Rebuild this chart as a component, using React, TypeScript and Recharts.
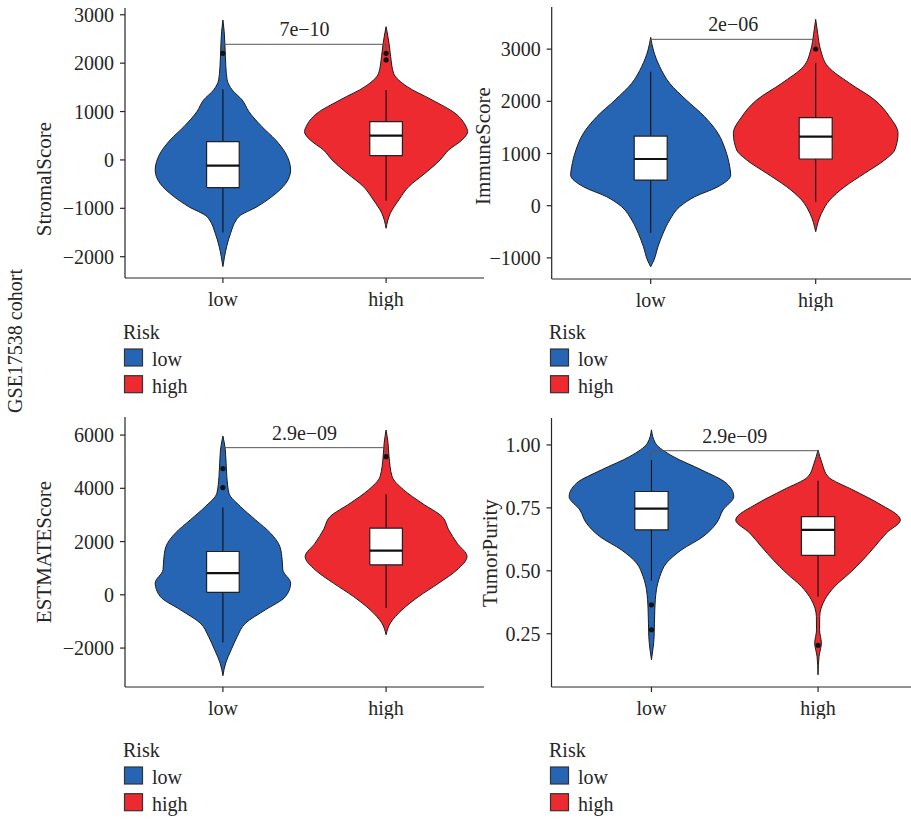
import { Area, ComposedChart, Line, ReferenceLine, Scatter, XAxis, YAxis } from 'recharts'

const CATEGORIES = ['low', 'high']
const RISK_COLORS = ['#2565b4', '#ec2a2f']
const INK = '#262626'
const FONT = '"Liberation Serif", "Times New Roman", serif'

// violin outlines: [score, half width in category units], top to bottom
const stromalLowViolin = [
  [2892, 0], [2650, 0.008], [2410, 0.012], [1928, 0.018], [1653, 0.026], [1446, 0.057],
  [1240, 0.118], [1000, 0.159], [688, 0.239], [413, 0.323], [140, 0.384], [-207, 0.415],
  [-482, 0.386], [-758, 0.3], [-965, 0.21], [-1170, 0.098], [-1240, 0.082], [-1515, 0.047],
  [-1790, 0.023], [-2000, 0.01], [-2204, 0],
]
const stromalHighViolin = [
  [2754, 0], [2410, 0.018], [2134, 0.028], [1790, 0.046], [1515, 0.129], [1240, 0.282],
  [964, 0.423], [688, 0.49], [585, 0.5], [413, 0.465], [207, 0.384], [0, 0.331],
  [-275, 0.239], [-551, 0.139], [-826, 0.078], [-1102, 0.026], [-1412, 0],
]
const immuneLowViolin = [
  [3227, 0], [2983, 0.016], [2663, 0.055], [2345, 0.115], [2025, 0.216], [1705, 0.327],
  [1387, 0.408], [1067, 0.453], [747, 0.479], [588, 0.485], [364, 0.408], [172, 0.267],
  [-19, 0.176], [-274, 0.115], [-529, 0.075], [-786, 0.044], [-1040, 0.02], [-1169, 0],
]
const immuneHighViolin = [
  [3571, 0], [3303, 0.012], [2983, 0.03], [2663, 0.075], [2345, 0.206], [2025, 0.358],
  [1705, 0.448], [1387, 0.499], [1067, 0.479], [876, 0.418], [621, 0.297], [364, 0.176],
  [109, 0.085], [-146, 0.035], [-498, 0],
]
const estimateLowViolin = [
  [5966, 0], [5441, 0.015], [4439, 0.024], [3815, 0.037], [3313, 0.108], [2814, 0.2],
  [2315, 0.292], [1812, 0.349], [1313, 0.363], [938, 0.367], [439, 0.415], [-64, 0.384],
  [-563, 0.261], [-1062, 0.139], [-1565, 0.088], [-2064, 0.051], [-2563, 0.017], [-3039, 0],
]
const estimateHighViolin = [
  [6191, 0], [5691, 0.012], [5190, 0.018], [4439, 0.037], [3940, 0.108], [3440, 0.22],
  [2938, 0.343], [2439, 0.384], [1940, 0.435], [1437, 0.496], [938, 0.435], [439, 0.323],
  [-64, 0.2], [-563, 0.098], [-1062, 0.026], [-1501, 0],
]
const purityLowViolin = [
  [1.06, 0], [1.007, 0.024], [0.954, 0.13], [0.901, 0.3], [0.848, 0.45], [0.795, 0.494],
  [0.742, 0.43], [0.689, 0.39], [0.636, 0.31], [0.583, 0.18], [0.531, 0.09], [0.477, 0.05],
  [0.425, 0.03], [0.345, 0.02], [0.239, 0.016], [0.147, 0],
]
const purityHighViolin = [
  [0.98, 0], [0.927, 0.024], [0.874, 0.06], [0.821, 0.21], [0.769, 0.36], [0.702, 0.494],
  [0.65, 0.41], [0.596, 0.34], [0.544, 0.27], [0.491, 0.19], [0.438, 0.1], [0.385, 0.04],
  [0.319, 0.01], [0.266, 0.009], [0.213, 0.02], [0.16, 0.006], [0.087, 0],
]

// box stats: lower whisker, Q1, median, Q3, upper whisker
const stromalLowBox = [-1501, -572, -117, 378, 1460]
const stromalHighBox = [-841, 89, 502, 791, 1446]
const immuneLowBox = [-517, 492, 895, 1335, 2567]
const immuneHighBox = [77, 895, 1322, 1686, 2740]
const estimateLowBox = [-1789, 88, 813, 1626, 3276]
const estimateHighBox = [-499, 1126, 1663, 2502, 3778]
const purityLowBox = [0.462, 0.663, 0.747, 0.815, 0.94]
const purityHighBox = [0.398, 0.561, 0.663, 0.715, 0.858]

const stromalLowOutliers = [2204]
const stromalHighOutliers = [2204, 2066]
const immuneLowOutliers: number[] = []
const immuneHighOutliers = [3002]
const estimateLowOutliers = [4740, 4027]
const estimateHighOutliers = [5190]
const purityLowOutliers = [0.365, 0.266]
const purityHighOutliers = [0.204]

const stromalTicks = [-2000, -1000, 0, 1000, 2000, 3000]
const immuneTicks = [-1000, 0, 1000, 2000, 3000]
const estimateTicks = [-2000, 0, 2000, 4000, 6000]
const purityTicks = [0.25, 0.5, 0.75, 1.0]

const pValues = ['7e\u221210', '2e\u221206', '2.9e\u221209', '2.9e\u221209']
const bracketLevels = [2390, 3188, 5527, 0.977]

type Group = { violin: number[][]; box: number[]; outliers: number[] }
type PanelDef = {
  left: number
  top: number
  plot: [number, number, number, number]
  domain: [number, number]
  ticks: number[]
  format: (v: number) => string
  groups: Group[]
  pValue: string
  bracketAt: number
}

const signed = (v: number) => String(v).replace('-', '\u2212')

const panels: PanelDef[] = [
  {
    left: 0, top: 0, plot: [125, 484, 8, 278], domain: [-2440, 3140], ticks: stromalTicks, format: signed,
    groups: [
      { violin: stromalLowViolin, box: stromalLowBox, outliers: stromalLowOutliers },
      { violin: stromalHighViolin, box: stromalHighBox, outliers: stromalHighOutliers },
    ],
    pValue: pValues[0], bracketAt: bracketLevels[0],
  },
  {
    left: 460, top: 0, plot: [551.7, 914.7, 7, 279], domain: [-1404, 3807], ticks: immuneTicks, format: signed,
    groups: [
      { violin: immuneLowViolin, box: immuneLowBox, outliers: immuneLowOutliers },
      { violin: immuneHighViolin, box: immuneHighBox, outliers: immuneHighOutliers },
    ],
    pValue: pValues[1], bracketAt: bracketLevels[1],
  },
  {
    left: 0, top: 410, plot: [125, 484, 417, 687], domain: [-3463, 6679], ticks: estimateTicks, format: signed,
    groups: [
      { violin: estimateLowViolin, box: estimateLowBox, outliers: estimateLowOutliers },
      { violin: estimateHighViolin, box: estimateHighBox, outliers: estimateHighOutliers },
    ],
    pValue: pValues[2], bracketAt: bracketLevels[2],
  },
  {
    left: 460, top: 410, plot: [551.5, 918, 418, 687], domain: [0.0385, 1.107], ticks: purityTicks,
    format: (v: number) => v.toFixed(2),
    groups: [
      { violin: purityLowViolin, box: purityLowBox, outliers: purityLowOutliers },
      { violin: purityHighViolin, box: purityHighBox, outliers: purityHighOutliers },
    ],
    pValue: pValues[3], bracketAt: bracketLevels[3],
  },
]

const BOX_HALF = 0.1
const Y_AXIS_W = 70

function Dot(props: any) {
  const { cx, cy } = props
  if (cx == null || cy == null) return null
  return <circle cx={cx} cy={cy} r={2.6} fill="#111" />
}

function Panel({ def }: { def: PanelDef }) {
  const [x0, x1, y0, y1] = def.plot
  const width = x1 + 4 - def.left
  const height = y1 + 32 - def.top
  const margin = { left: x0 - def.left - Y_AXIS_W, right: 4, top: y0 - def.top, bottom: 2 }
  const tip = (def.domain[1] - def.domain[0]) * 0.03

  const series = def.groups.flatMap((g, i) => {
    const pos = i + 1
    const [wLo, q1, med, q3, wHi] = g.box
    const lo = pos - BOX_HALF
    const hi = pos + BOX_HALF
    return [
      <Area
        key={`violin-${i}`}
        data={g.violin.map(([y, hw]) => ({ y, span: [pos - hw, pos + hw] }))}
        dataKey="span"
        type="monotone"
        fill={RISK_COLORS[i]}
        fillOpacity={1}
        stroke="#1c1c1c"
        strokeWidth={1}
        dot={false}
        activeDot={false}
        isAnimationActive={false}
      />,
      <Line
        key={`whisker-up-${i}`}
        data={[{ y: wHi, v: pos }, { y: q3, v: pos }]}
        dataKey="v"
        stroke="#111"
        strokeWidth={1.1}
        dot={false}
        activeDot={false}
        isAnimationActive={false}
      />,
      <Line
        key={`whisker-down-${i}`}
        data={[{ y: q1, v: pos }, { y: wLo, v: pos }]}
        dataKey="v"
        stroke="#111"
        strokeWidth={1.1}
        dot={false}
        activeDot={false}
        isAnimationActive={false}
      />,
      <Area
        key={`box-${i}`}
        data={[{ y: q3, span: [lo, hi] }, { y: q1, span: [lo, hi] }]}
        dataKey="span"
        type="linear"
        fill="#ffffff"
        fillOpacity={1}
        stroke="none"
        dot={false}
        activeDot={false}
        isAnimationActive={false}
      />,
      <Line
        key={`box-edge-${i}`}
        data={[
          { y: q1, v: lo }, { y: q1, v: hi }, { y: q3, v: hi }, { y: q3, v: lo }, { y: q1, v: lo },
        ]}
        dataKey="v"
        stroke="#222"
        strokeWidth={1.2}
        dot={false}
        activeDot={false}
        isAnimationActive={false}
      />,
      <Line
        key={`median-${i}`}
        data={[{ y: med, v: lo }, { y: med, v: hi }]}
        dataKey="v"
        stroke="#111"
        strokeWidth={2.2}
        dot={false}
        activeDot={false}
        isAnimationActive={false}
      />,
      <Scatter
        key={`out-${i}`}
        data={g.outliers.map((y) => ({ x: pos, y }))}
        shape={<Dot />}
        isAnimationActive={false}
      />,
    ]
  })

  return (
    <div style={{ position: 'absolute', left: def.left, top: def.top }}>
      <ComposedChart
        layout="vertical"
        width={width}
        height={height}
        margin={margin}
        style={{ fontFamily: FONT }}
      >
        <XAxis
          type="number"
          dataKey="x"
          domain={[0.4, 2.6]}
          ticks={[1, 2]}
          allowDataOverflow
          tickFormatter={(v: number) => CATEGORIES[v - 1]}
          stroke={INK}
          strokeWidth={1.2}
          tick={{ fill: INK, fontSize: 20 }}
          tickSize={5}
          tickMargin={9}
          height={30}
        />
        <YAxis
          type="number"
          dataKey="y"
          reversed
          domain={def.domain}
          ticks={def.ticks}
          allowDataOverflow
          tickFormatter={def.format}
          stroke={INK}
          strokeWidth={1.2}
          tick={{ fill: INK, fontSize: 20 }}
          tickSize={5}
          tickMargin={6}
          width={Y_AXIS_W}
        />
        {series}
        <Line
          data={[
            { y: def.bracketAt - tip, v: 1 },
            { y: def.bracketAt, v: 1 },
            { y: def.bracketAt, v: 2 },
            { y: def.bracketAt - tip, v: 2 },
          ]}
          dataKey="v"
          stroke="#555"
          strokeWidth={1}
          dot={false}
          activeDot={false}
          isAnimationActive={false}
        />
        <ReferenceLine
          segment={[{ x: 1, y: def.bracketAt }, { x: 2, y: def.bracketAt }]}
          stroke="none"
          label={{ value: def.pValue, position: 'top', fill: INK, fontSize: 20, offset: 8 }}
        />
      </ComposedChart>
    </div>
  )
}

const axisTitles = [
  { text: 'StromalScore', x: 44, y: 179 },
  { text: 'ImmuneScore', x: 483, y: 146 },
  { text: 'ESTMATEScore', x: 44, y: 552 },
  { text: 'TumorPurity', x: 490, y: 553 },
]

const legendSpots = [
  { x: 123, y: 339 },
  { x: 549, y: 339 },
  { x: 123, y: 757 },
  { x: 549, y: 757 },
]

function RiskLegend({ x, y }: { x: number; y: number }) {
  return (
    <g>
      <text x={x} y={y} fontSize={20} fill={INK}>Risk</text>
      {CATEGORIES.map((c, i) => (
        <g key={c}>
          <rect
            x={x + 1.5}
            y={y + 10 + i * 26.7}
            width={18}
            height={17}
            fill={RISK_COLORS[i]}
            stroke="#333"
            strokeWidth={1.2}
          />
          <text x={x + 29} y={y + 27 + i * 26.7} fontSize={20} fill={INK}>{c}</text>
        </g>
      ))}
    </g>
  )
}

export default function App() {
  return (
    <div
      style={{
        position: 'absolute',
        left: 0,
        top: 0,
        width: 911,
        height: 820,
        overflow: 'hidden',
        background: '#fff',
        fontFamily: FONT,
      }}
    >
      {panels.map((p, i) => (
        <Panel key={i} def={p} />
      ))}
      <svg
        width={911}
        height={820}
        style={{ position: 'absolute', left: 0, top: 0, pointerEvents: 'none', fontFamily: FONT }}
      >
        <text
          x={15}
          y={341}
          dy="0.35em"
          fontSize={20}
          fill={INK}
          textAnchor="middle"
          transform="rotate(-90 15 341)"
        >
          GSE17538 cohort
        </text>
        {axisTitles.map((t) => (
          <text
            key={t.text}
            x={t.x}
            y={t.y}
            dy="0.35em"
            fontSize={21}
            fill={INK}
            textAnchor="middle"
            transform={`rotate(-90 ${t.x} ${t.y})`}
          >
            {t.text}
          </text>
        ))}
        {legendSpots.map((s, i) => (
          <RiskLegend key={i} x={s.x} y={s.y} />
        ))}
      </svg>
    </div>
  )
}
